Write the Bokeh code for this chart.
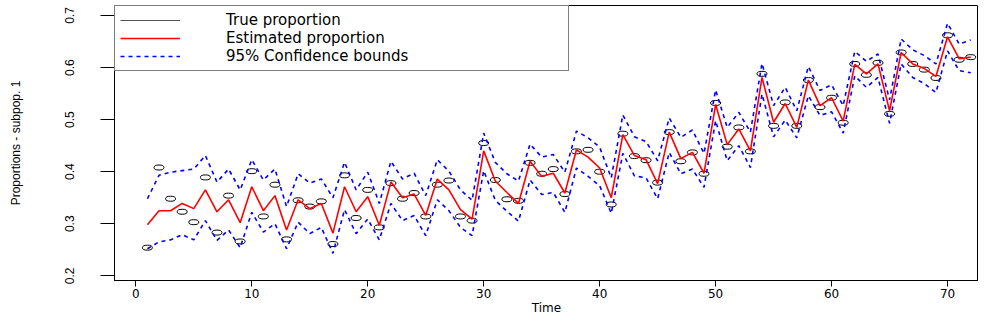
from bokeh.plotting import figure
from bokeh.models import Range1d, Legend, LegendItem, FixedTicker
from bokeh.embed import file_html
from bokeh.resources import INLINE

time = list(range(1, 73))

true_prop = [0.254, 0.408, 0.348, 0.323, 0.303, 0.389, 0.283, 0.354, 0.266, 0.401,
             0.314, 0.375, 0.270, 0.345, 0.333, 0.343, 0.261, 0.393, 0.311, 0.365,
             0.293, 0.378, 0.348, 0.359, 0.314, 0.375, 0.383, 0.314, 0.306, 0.455,
             0.384, 0.347, 0.344, 0.417, 0.396, 0.405, 0.357, 0.439, 0.442, 0.400,
             0.337, 0.473, 0.430, 0.422, 0.379, 0.476, 0.420, 0.437, 0.396, 0.532,
             0.448, 0.485, 0.439, 0.588, 0.488, 0.533, 0.488, 0.576, 0.524, 0.542,
             0.494, 0.607, 0.586, 0.609, 0.511, 0.629, 0.607, 0.596, 0.580, 0.662,
             0.615, 0.620]

est_prop = [0.298, 0.325, 0.325, 0.339, 0.329, 0.365, 0.323, 0.346, 0.302, 0.371,
            0.325, 0.354, 0.288, 0.346, 0.329, 0.339, 0.282, 0.371, 0.323, 0.352,
            0.297, 0.380, 0.350, 0.357, 0.316, 0.386, 0.365, 0.327, 0.309, 0.440,
            0.382, 0.360, 0.339, 0.420, 0.391, 0.397, 0.359, 0.442, 0.428, 0.407,
            0.350, 0.471, 0.431, 0.423, 0.377, 0.476, 0.425, 0.437, 0.397, 0.529,
            0.452, 0.482, 0.440, 0.581, 0.495, 0.531, 0.485, 0.576, 0.527, 0.542,
            0.497, 0.606, 0.588, 0.607, 0.517, 0.629, 0.607, 0.598, 0.583, 0.659,
            0.617, 0.620]

upper = [0.348, 0.393, 0.399, 0.402, 0.405, 0.431, 0.380, 0.405, 0.365, 0.423,
         0.384, 0.405, 0.333, 0.396, 0.378, 0.386, 0.350, 0.418, 0.365, 0.399,
         0.339, 0.420, 0.386, 0.397, 0.354, 0.423, 0.401, 0.365, 0.345, 0.474,
         0.418, 0.396, 0.382, 0.453, 0.428, 0.433, 0.399, 0.478, 0.465, 0.447,
         0.388, 0.509, 0.467, 0.458, 0.421, 0.503, 0.466, 0.480, 0.435, 0.557,
         0.485, 0.514, 0.476, 0.608, 0.527, 0.562, 0.517, 0.602, 0.556, 0.567,
         0.527, 0.631, 0.612, 0.626, 0.538, 0.655, 0.634, 0.623, 0.607, 0.685,
         0.645, 0.653]

lower = [0.252, 0.265, 0.269, 0.279, 0.269, 0.306, 0.268, 0.288, 0.254, 0.322,
         0.284, 0.300, 0.252, 0.303, 0.281, 0.293, 0.243, 0.327, 0.281, 0.309,
         0.269, 0.339, 0.306, 0.316, 0.277, 0.346, 0.325, 0.293, 0.277, 0.402,
         0.345, 0.324, 0.305, 0.384, 0.356, 0.360, 0.322, 0.407, 0.391, 0.373,
         0.320, 0.435, 0.392, 0.388, 0.348, 0.437, 0.396, 0.405, 0.370, 0.498,
         0.421, 0.450, 0.408, 0.549, 0.467, 0.499, 0.465, 0.546, 0.508, 0.515,
         0.474, 0.584, 0.562, 0.581, 0.493, 0.607, 0.581, 0.569, 0.552, 0.632,
         0.594, 0.590]

x_ticks = [0, 10, 20, 30, 40, 50, 60, 70]
y_ticks = [0.2, 0.3, 0.4, 0.5, 0.6, 0.7]
legend_labels = ["True proportion", "Estimated proportion", "95% Confidence bounds"]

p = figure(width=978, height=318, output_backend="svg", toolbar_location=None,
           x_range=Range1d(-1.837, 72.67), y_range=Range1d(0.19097, 0.7192),
           min_border_left=114, min_border_right=0, min_border_top=5, min_border_bottom=38)

p.xgrid.visible = False
p.ygrid.visible = False
p.outline_line_color = "black"
p.outline_line_width = 1
p.background_fill_color = "white"
p.border_fill_color = "white"

# data
p.ellipse(x=time, y=true_prop, width=10, height=5, width_units="screen", height_units="screen",
          fill_color=None, line_color="black", line_width=1)
r_est = p.line(time, est_prop, line_color="#FF0000", line_width=1.6)
r_up = p.line(time, upper, line_color="#0000FF", line_width=1.6, line_dash="4 4")
p.line(time, lower, line_color="#0000FF", line_width=1.6, line_dash="4 4")
r_true = p.line(time, true_prop, line_color="#555555", line_width=1, visible=False)

# axes
xa = p.xaxis[0]
xa.ticker = FixedTicker(ticks=x_ticks)
xa.axis_label = "Time"
xa.axis_label_text_font = "DejaVu Sans"
xa.axis_label_text_font_size = "12px"
xa.axis_label_text_font_style = "normal"
xa.axis_label_standoff = 0
xa.major_label_text_font = "DejaVu Sans"
xa.major_label_text_font_size = "12px"
xa.major_label_standoff = 2
xa.major_tick_out = 6
xa.major_tick_in = 0
xa.minor_tick_out = 0
xa.minor_tick_in = 0
xa.axis_line_color = "black"
xa.major_tick_line_color = "black"
xa.major_label_text_color = "black"
xa.axis_label_text_color = "black"

ya = p.yaxis[0]
ya.ticker = FixedTicker(ticks=y_ticks)
ya.axis_label = "Proportions - subpop. 1"
ya.axis_label_text_font = "Liberation Sans"
ya.axis_label_text_font_size = "12px"
ya.axis_label_text_font_style = "normal"
ya.axis_label_standoff = 40
ya.major_label_text_font = "Liberation Sans"
ya.major_label_text_font_size = "12px"
ya.major_label_orientation = "parallel"
ya.major_label_standoff = 26
ya.major_tick_out = 14
ya.major_tick_in = 0
ya.minor_tick_out = 0
ya.minor_tick_in = 0
ya.axis_line_color = "black"
ya.major_tick_line_color = "black"
ya.major_label_text_color = "black"
ya.axis_label_text_color = "black"

legend = Legend(items=[LegendItem(label=legend_labels[0], renderers=[r_true]),
                       LegendItem(label=legend_labels[1], renderers=[r_est]),
                       LegendItem(label=legend_labels[2], renderers=[r_up])],
                location="top_left", margin=0, padding=5, spacing=0,
                glyph_width=60, glyph_height=14, label_height=14, label_standoff=46,
                label_width=337, label_text_font="DejaVu Sans", label_text_font_size="15px",
                label_text_color="black", border_line_color="black", border_line_width=1,
                background_fill_color="white", background_fill_alpha=1.0,
                inactive_fill_alpha=0.0, click_policy="none")
p.add_layout(legend, "center")

open("out.html", "w").write(file_html(p, INLINE))
